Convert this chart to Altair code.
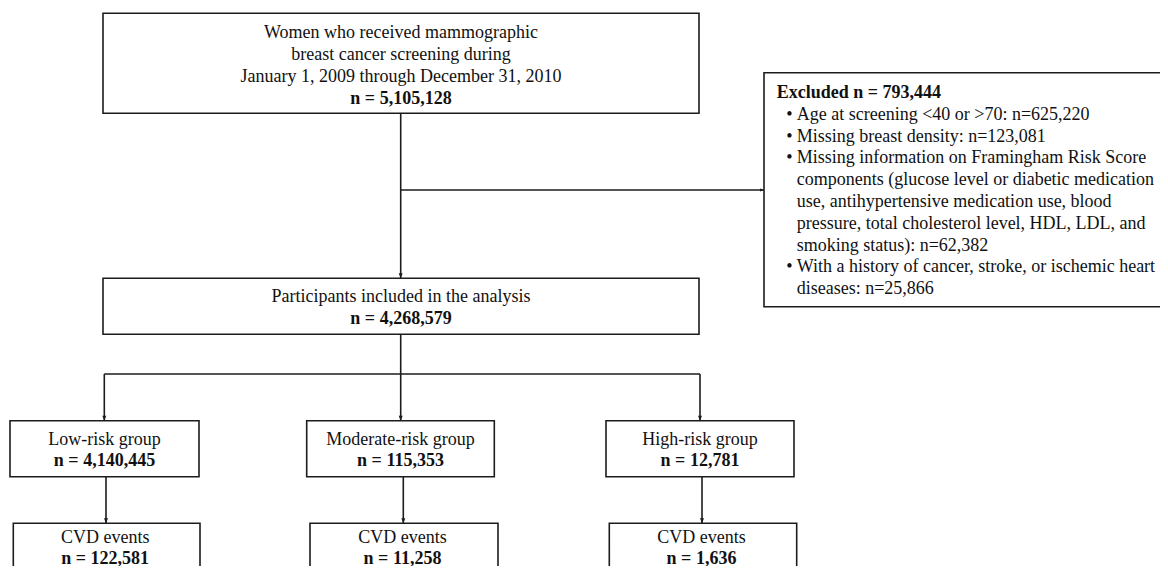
import altair as alt
import pandas as pd

# ---------------- content ----------------
screen_lines = [
    "Women who received mammographic",
    "breast cancer screening during",
    "January 1, 2009 through December 31, 2010",
]
screened_n = 5105128

included_label = "Participants included in the analysis"
included_n = 4268579

excluded_n = 793444
exclusion_text = [
    ["Age at screening <40 or >70"],
    ["Missing breast density"],
    [
        "Missing information on Framingham Risk Score",
        "components (glucose level or diabetic medication",
        "use, antihypertensive medication use, blood",
        "pressure, total cholesterol level, HDL, LDL, and",
        "smoking status)",
    ],
    ["With a history of cancer, stroke, or ischemic heart", "diseases"],
]
exclusion_n = [625220, 123081, 62382, 25866]

groups = ["Low-risk group", "Moderate-risk group", "High-risk group"]
group_n = [4140445, 115353, 12781]
cvd_label = "CVD events"
cvd_n = [122581, 11258, 1636]

# ---------------- layout (page pixel coordinates) ----------------
top_box = (103, 699, 13.3, 113.3)
excl_box = (764, 1175, 72.7, 306.7)
incl_box = (103, 699, 278.3, 334.3)
group_x = [(10, 199), (306.7, 494.3), (606, 794)]
group_y = (420.7, 476.7)
cvd_x = [(13.3, 200), (310, 498), (609.3, 796.7)]
cvd_y = (523.3, 600)
trunk_x = 400.7
branch_y = 374
excl_arrow_y = 190
branch_x = [104.3, 400.7, 700]
cvd_arrow_x = [106, 403.3, 702]

fmt = lambda n: f"{n:,}"

# boxes
box_rows = [top_box, excl_box, incl_box]
box_rows += [(a, b, group_y[0], group_y[1]) for a, b in group_x]
box_rows += [(a, b, cvd_y[0], cvd_y[1]) for a, b in cvd_x]
boxes = pd.DataFrame(box_rows, columns=["x", "x2", "y", "y2"])

# connector segments
seg = [
    (trunk_x, trunk_x, top_box[3], incl_box[2]),
    (trunk_x, excl_box[0], excl_arrow_y, excl_arrow_y),
    (trunk_x, trunk_x, incl_box[3], branch_y),
    (branch_x[0], branch_x[-1], branch_y, branch_y),
]
for bx in branch_x:
    seg.append((bx, bx, branch_y, group_y[0]))
for cx in cvd_arrow_x:
    seg.append((cx, cx, group_y[1], cvd_y[0]))
segs = pd.DataFrame(seg, columns=["x", "x2", "y", "y2"])

# arrow heads (tips)
down_tips = pd.DataFrame(
    [(trunk_x, incl_box[2])]
    + [(bx, group_y[0]) for bx in branch_x]
    + [(cx, cvd_y[0]) for cx in cvd_arrow_x],
    columns=["x", "y"],
)
right_tips = pd.DataFrame([(excl_box[0], excl_arrow_y)], columns=["x", "y"])

# texts
top_cx = (top_box[0] + top_box[1]) / 2
center_normal, center_bold, left_normal, left_bold, bullets = [], [], [], [], []
for i, line in enumerate(screen_lines):
    center_normal.append((top_cx, 37.5 + 22 * i, line))
center_bold.append((top_cx, 103.5, "n = " + fmt(screened_n)))
center_normal.append((top_cx, 302, included_label))
center_bold.append((top_cx, 324, "n = " + fmt(included_n)))
for (a, b), g, n in zip(group_x, groups, group_n):
    center_normal.append(((a + b) / 2, 445, g))
    center_bold.append(((a + b) / 2, 466, "n = " + fmt(n)))
for (a, b), n in zip(cvd_x, cvd_n):
    center_normal.append(((a + b) / 2 - 1.5, 543, cvd_label))
    center_bold.append(((a + b) / 2 - 1.5, 563.5, "n = " + fmt(n)))

line_h = 21.8
yy = 98
left_bold.append((776.7, yy, "Excluded n = " + fmt(excluded_n)))
for lines, n in zip(exclusion_text, exclusion_n):
    for j, ln in enumerate(lines):
        yy += line_h
        txt = ln + (": n=" + fmt(n) if j == len(lines) - 1 else "")
        if j == 0:
            bullets.append((789.5, yy, "•"))
        left_normal.append((796.7, yy, txt))

cols = ["x", "y", "t"]
df_cn = pd.DataFrame(center_normal, columns=cols)
df_cb = pd.DataFrame(center_bold, columns=cols)
df_ln = pd.DataFrame(left_normal, columns=cols)
df_lb = pd.DataFrame(left_bold, columns=cols)
df_bu = pd.DataFrame(bullets, columns=cols)

# ---------------- chart ----------------
W, H = 1152, 558
xs = alt.Scale(domain=[8, 8 + W], nice=False, zero=False)
ys = alt.Scale(domain=[8, 8 + H], nice=False, zero=False, reverse=True)
X = lambda f="x": alt.X(f"{f}:Q", scale=xs, axis=None)
Y = lambda f="y": alt.Y(f"{f}:Q", scale=ys, axis=None)

INK = "#1c1c1c"
FONT = "Liberation Serif"

rects = alt.Chart(boxes).mark_rect(
    fill="white", stroke=INK, strokeWidth=1.6, clip=True
).encode(x=X(), x2="x2:Q", y=Y(), y2="y2:Q")

rules = alt.Chart(segs).mark_rule(color=INK, strokeWidth=1.6, clip=True).encode(
    x=X(), x2="x2:Q", y=Y(), y2="y2:Q"
)

down_heads = alt.Chart(down_tips).mark_point(
    shape="M-0.8,-2L0.8,-2L0,0Z", size=25, filled=True, color=INK, opacity=1, strokeWidth=0
).encode(x=X(), y=Y())

right_heads = alt.Chart(right_tips).mark_point(
    shape="M-2,-0.8L0,0L-2,0.8Z", size=16, filled=True, color=INK, opacity=1, strokeWidth=0
).encode(x=X(), y=Y())


def text_layer(df, align, weight):
    return alt.Chart(df).mark_text(
        align=align, baseline="alphabetic", font=FONT, fontSize=18,
        fontWeight=weight, color="#111111"
    ).encode(x=X(), y=Y(), text="t:N")


chart = alt.layer(
    rects,
    rules,
    down_heads,
    right_heads,
    text_layer(df_cn, "center", "normal"),
    text_layer(df_cb, "center", "bold"),
    text_layer(df_ln, "left", "normal"),
    text_layer(df_lb, "left", "bold"),
    text_layer(df_bu, "center", "normal"),
).properties(
    width=W, height=H, padding=0, autosize=alt.AutoSizeParams(type="none")
).configure_view(stroke=None)

chart.save("out.html", embed_options={"renderer": "svg", "actions": False})
